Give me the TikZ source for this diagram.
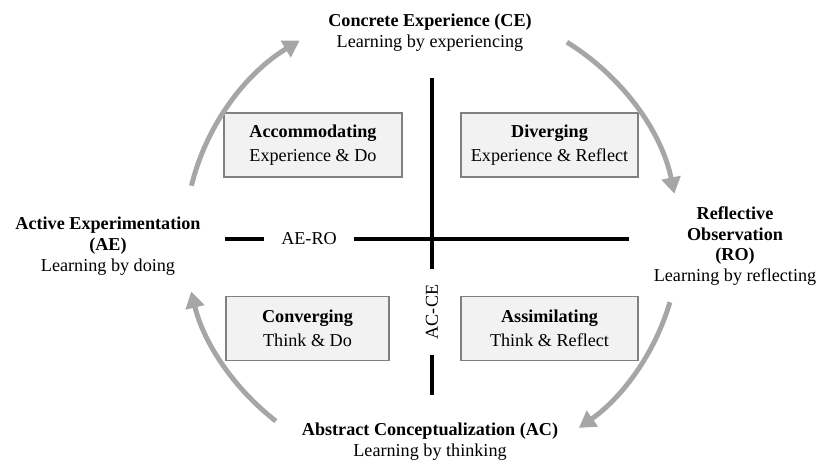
\documentclass[tikz,border=0pt]{standalone}
\usepackage{fontspec}
\setmainfont{Liberation Serif}
\usetikzlibrary{arrows.meta}

\begin{document}
\begin{tikzpicture}[x=0.03cm,y=0.03cm,
  font=\fontsize{15.5}{17.8}\selectfont,
  quadbox/.style={draw=boxline,fill=boxfill,line width=1.6pt,minimum height=1.92cm,inner sep=0pt,align=center},
  stage/.style={align=center,inner sep=0pt},
  axis/.style={line width=3pt,black},
  cyclearrow/.style={line width=4.2pt,arrowgray,-{Triangle[length=14pt,width=16pt]}}]
\definecolor{arrowgray}{HTML}{A6A6A6}
\definecolor{boxline}{HTML}{808080}
\definecolor{boxfill}{HTML}{F2F2F2}
\useasboundingbox (0,0) rectangle (821,463);
% the four stages of the cycle
\node [stage] (ce) at (430,430) {\textbf{Concrete Experience (CE)}\\Learning by experiencing};
\node [stage] (ro) at (735,217) {\textbf{Reflective}\\\textbf{Observation}\\\textbf{(RO)}\\Learning by reflecting};
\node [stage] (ac) at (430,21) {\textbf{Abstract Conceptualization (AC)}\\Learning by thinking};
\node [stage] (ae) at (108,217) {\textbf{Active Experimentation}\\\textbf{(AE)}\\Learning by doing};
% learning styles
  \foreach \nm/\px/\py/\bw/\ttl/\sub in {accom/313/318/5.34cm/Accommodating/Experience \& Do,
      diverg/549.5/318/5.31cm/Diverging/Experience \& Reflect,
      converg/307.5/134.5/4.89cm/Converging/Think \& Do,
      assim/549.5/134.5/5.31cm/Assimilating/Think \& Reflect}
  {  \node [quadbox,minimum width=\bw] (\nm) at (\px,\py) {\textbf{\ttl}\\[2.5pt]\sub};}
% axes
\node [inner sep=0pt,minimum width=2.7cm] (aero) at (309,224) {AE-RO};
\node [inner sep=0pt,minimum width=2.58cm,rotate=90] (acce) at (432,151) {AC-CE};
\coordinate (hleft) at (225,224);
\coordinate (hright) at (629,224);
\coordinate (vtop) at (432,385);
\coordinate (vbottom) at (432,68);
\draw [axis] (hleft) -- (aero.west);
\draw [axis] (aero.east) -- (hright);
\draw [axis] (vtop) -- (acce.east);
\draw [axis] (acce.west) -- (vbottom);
% cycle arrows
\coordinate (hub) at (432,224);
  \foreach \from/\to in {166.9/122.4,56.9/11.1,-15.6/-53.5,230.8/192.9}
  {  \draw [cyclearrow] ([shift={(\from:247 and 235)}]hub) arc[start angle=\from,end angle=\to,x radius=247,y radius=235];}
\end{tikzpicture}
\end{document}
